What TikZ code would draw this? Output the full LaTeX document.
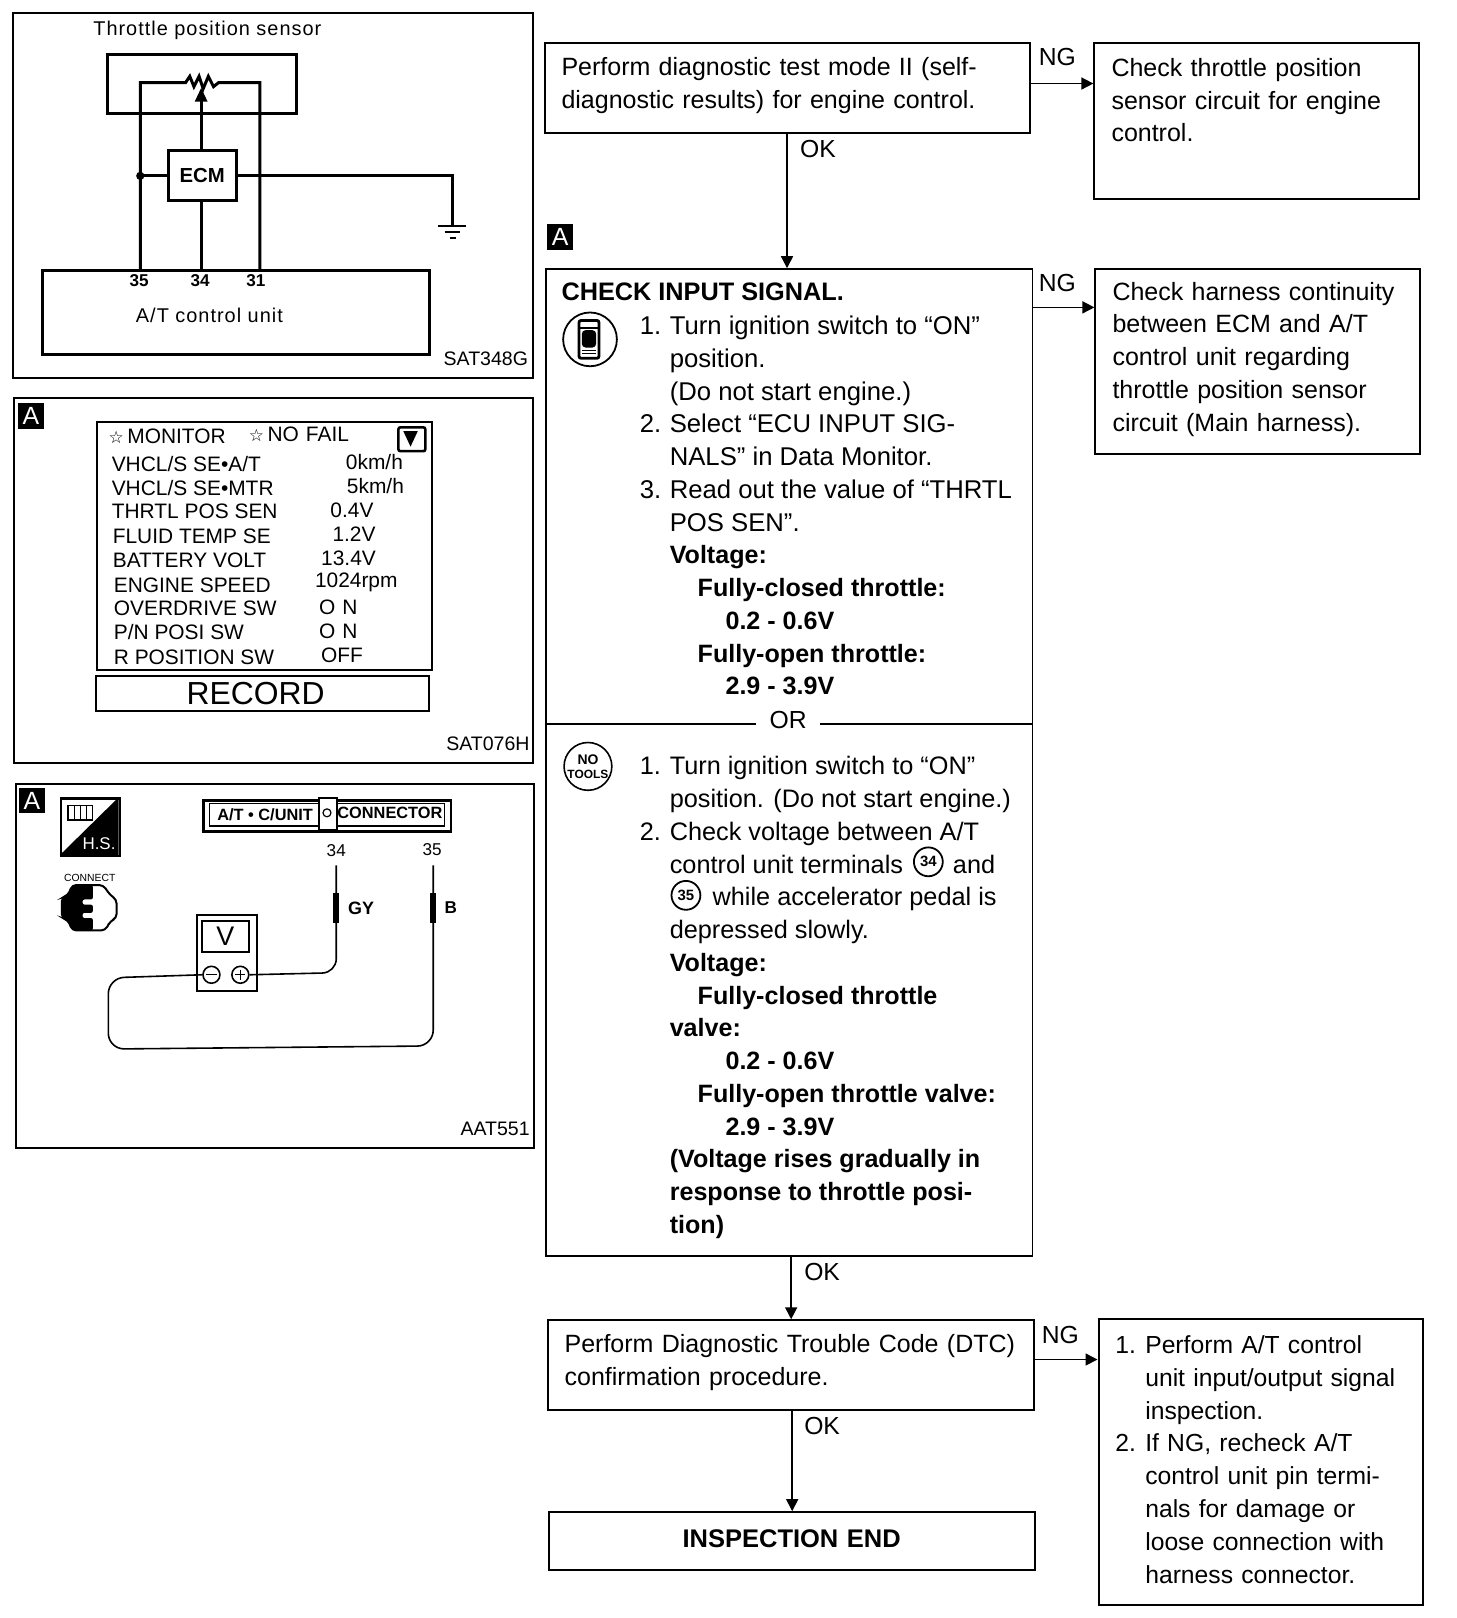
\documentclass[tikz,border=0pt]{standalone}
\usepackage{fontspec}
\setmainfont{Liberation Sans}
\newfontfamily\starfont{DejaVu Sans}
\newfontfamily\widefont[LetterSpace=5]{Liberation Sans}
\usetikzlibrary{arrows.meta}
\newcommand{\fsize}[1]{\fontsize{#1}{16.45}\selectfont}
\newcommand{\bld}[1]{{\bfseries\fsize{12.6}#1}}
\newcommand{\itm}[1]{\makebox[15pt][l]{#1}}
\newcommand{\ind}{\hspace*{15pt}}
\newcommand{\indd}{\hspace*{29pt}}
\newcommand{\inddd}{\hspace*{43pt}}
\tikzset{panel/.style={draw, line width=1pt, anchor=north west, inner sep=0pt},
    flowbox/.style={draw, line width=1pt, anchor=north west, align=left, inner xsep=8.5pt, inner ysep=0pt, font=\fsize{12.55},
        execute at end node={\par\vspace*{2.6pt}}},
    flowtext/.style={anchor=north west, align=left, inner sep=0pt, font=\fsize{12.7}},
    flow/.style={line width=0.8pt, -{Triangle[length=6pt,width=6pt]}},
    tag/.style={inner sep=0pt, font=\fsize{12.4}},
    badge/.style={fill=black, text=white, minimum size=13pt, inner sep=0pt, font=\fsize{12.5}},
    wire/.style={line width=1.5pt},
    thinwire/.style={line width=0.8pt},
    code/.style={inner sep=0pt, font=\fsize{9.8}},
    widetext/.style={inner sep=0pt, font=\widefont\fsize{10}},
    pinlabel/.style={inner sep=0pt, font=\bfseries\fsize{8.6}},
    scantext/.style={inner sep=0pt, anchor=west, font=\fsize{10.5}},
    numcircle/.style={circle, draw, line width=0.9pt, inner sep=0pt, minimum size=14.5pt, font=\bfseries\fsize{7.5}}}

\begin{document}
\begin{tikzpicture}[x=0.518pt, y=-0.518pt]
    \useasboundingbox (0,0) rectangle (1411.6,1568.6);

    % wiring panel
    \node[panel, minimum width=261pt, minimum height=183pt] (wiring) at (12,12) {};
    \node[widetext] (sensortitle) at (201,29) {Throttle position sensor};
    \node[panel, line width=1.5pt, minimum width=95pt, minimum height=30pt] (sensor) at (103,51) {};
    \node[panel, line width=1.5pt, minimum width=34pt, minimum height=25pt, font=\bfseries\fsize{10.2}, anchor=center] (ecm) at (196,170.5) {ECM};
    \node[panel, line width=1.5pt, minimum width=194pt, minimum height=42pt] (tcu) at (40,261) {};
    \node[pinlabel] (t35) at (135,272) {35};
    \node[pinlabel] (t34) at (194,272) {34};
    \node[pinlabel] (t31) at (248,272) {31};
    \node[widetext] (tcutext) at (203,306) {A/T control unit};
    \node[code] (sat348) at (471,348) {SAT348G};
    \coordinate (rleft) at (180,80);
    \coordinate (rright) at (212,80);
    \coordinate (wiper) at (195,85);
    \coordinate (junction) at (136,170.5);
    \coordinate (rwire) at (252,80);
    \coordinate (gnd) at (439,218);
    \draw[wire] (junction |- tcu.north) -- (junction) -- (136,80) -- (rleft)
        -- (184,74) -- (188,84) -- (193,74) -- (197,86) -- (202,74) -- (207,84) -- (rright) -- (rwire) -- (rwire |- tcu.north);
    \draw[wire, -{Triangle[length=7pt,width=6pt]}] (ecm.north -| wiper) -- (wiper);
    \draw[wire] (ecm.south -| wiper) -- (wiper |- tcu.north);
    \draw[wire] (ecm.west) -- (junction);
    \fill (junction) circle (4);
    \draw[wire] (ecm.east) -- (gnd |- ecm.east) -- (gnd);
    \draw[thinwire] (425,219) -- (452,219) (431,225) -- (446,225);
    \draw[line width=1pt] (436,231) -- (442,231);

    % monitor panel
    \node[panel, minimum width=260.5pt, minimum height=183pt] (monitor) at (13,385) {};
    \node[badge] (a1) at (30,403) {A};
    \node[panel, minimum width=168.5pt, minimum height=124.5pt] (screen) at (93,408) {};
    \node[panel, minimum width=167.5pt, minimum height=17.5pt, font=\fsize{16}, anchor=center] (record) at (254.5,672) {RECORD\hspace*{7pt}};
    \node[panel, line width=1.3pt, minimum width=13.5pt, minimum height=12pt, rounded corners=1pt] (scroll) at (385,413) {};
    \fill (391,418) -- (405,418) -- (398,433) -- cycle;
    \node[scantext] (mon) at (105,423) {{\starfont\fsize{8.5}☆}\,MONITOR};
    \node[scantext] (nofail) at (241,421) {{\starfont\fsize{8.5}☆}\,NO\,\,FAIL};
    \foreach \i/\lx/\ly/\vx/\vy/\name/\val in {1/108/450/335/448/{VHCL/S SE•A/T}/{0km/h},
        2/108/473/336/471/{VHCL/S SE•MTR}/{5km/h}, 3/108/496/320/495/{THRTL POS SEN}/{0.4V},
        4/109/520/322/518/{FLUID TEMP SE}/{1.2V}, 5/109/543/311/541/{BATTERY VOLT}/{13.4V},
        6/110/567/305/565/{ENGINE SPEED}/{1024rpm}, 7/110/590/309/589/{OVERDRIVE SW}/{O\,\,N},
        8/110/613/309/612/{P/N POSI SW}/{O\,\,N}, 9/110/637/311/635/{R POSITION SW}/{OFF}}
    {
        \node[scantext] (l\i) at (\lx,\ly) {\name};
        \node[scantext] (v\i) at (\vx,\vy) {\val};
    }
    \node[code] (sat076) at (473,721) {SAT076H};

    % voltmeter panel
    \node[panel, minimum width=260pt, minimum height=183pt] (meter) at (15,759) {};
    \node[badge] (a2) at (31,776) {A};
    \node[panel, line width=1.2pt, minimum width=29.5pt, minimum height=29pt] (hsicon) at (58,773) {};
    \fill (115,773) -- (115,829) -- (58,829) -- cycle;
    \node[inner sep=0pt, text=white, font=\fsize{8.5}] (hs) at (96,818) {H.S.};
    \draw[line width=0.6pt] (66,781) rectangle (90,795) (72,781) -- (72,795) (78,781) -- (78,795) (84,781) -- (84,795);
    \node[inner sep=0pt, font=\fsize{5.2}] (connect) at (87,851) {CONNECT};
    \draw[line width=1pt, rounded corners=2pt, fill=white] (70,858) -- (100,858) -- (107,868) -- (113,872) -- (113,890) -- (107,893) -- (102,902) -- (70,902) -- (66,892) -- (60,890) -- (60,870) -- (66,868) -- cycle;
    \fill[rounded corners=1pt] (70,858) -- (90,858) -- (90,872) -- (80,872) -- (80,877) -- (90,877) -- (90,885) -- (80,885) -- (80,890) -- (90,890) -- (90,902) -- (70,902) -- (66,892) -- (60,890) -- (60,870) -- (66,868) -- cycle;
    \node[panel, line width=1.2pt, minimum width=124.5pt, minimum height=15.5pt] (title) at (196,775) {};
    \draw[line width=0.8pt] (203,779) rectangle (431,801);
    \node[panel, line width=1pt, minimum width=9pt, minimum height=16pt, fill=white] (titletab) at (308,773) {};
    \node[circle, draw, line width=0.6pt, inner sep=0pt, minimum size=4pt] (tabdot) at (317,788) {};
    \node[inner sep=0pt, font=\bfseries\fsize{8.2}] (title1) at (257,790) {A/T • C/UNIT};
    \node[inner sep=0pt, font=\bfseries\fsize{8.2}] (title2) at (378,788) {CONNECTOR};
    \node[panel, minimum width=30pt, minimum height=38pt] (vm) at (190,886) {};
    \node[panel, line width=1.1pt, minimum width=23.5pt, minimum height=15.5pt, font=\fsize{13.5}, anchor=center] (vdisp) at (218.5,908) {V};
    \node[circle, draw, line width=0.8pt, inner sep=0pt, minimum size=8.5pt] (minus) at (205,945) {};
    \node[circle, draw, line width=0.8pt, inner sep=0pt, minimum size=8.5pt] (plus) at (233,945) {};
    \draw[line width=0.6pt] (200,945) -- (210,945) (228,945) -- (238,945) (233,940) -- (233,950);
    \node[code, font=\fsize{8.6}] (p34) at (326,825) {34};
    \node[code, font=\fsize{8.6}] (p35) at (419,824) {35};
    \node[code, font=\bfseries\fsize{9}] (gy) at (350,881) {GY};
    \node[code, font=\bfseries\fsize{8.6}] (bk) at (437,880) {B};
    \coordinate (tip34) at (326,839);
    \coordinate (tip35) at (420,839);
    \draw[thinwire, rounded corners=7pt] (tip34) -- (326,943) -- (plus.east);
    \draw[thinwire, rounded corners=8pt] (tip35) -- (420,1014) -- (105,1017) -- (105,948) -- (minus.west);
    \draw[line width=3.2pt] (326,866) -- (326,895) (420,866) -- (420,895);
    \node[code] (aat551) at (480,1094) {AAT551};

    % flow chart
    \node[flowbox, minimum width=244pt, minimum height=45pt, text width=227pt] (perform) at (527,41)
        {Perform diagnostic test mode II (self-\\diagnostic results) for engine control.};
    \node[flowbox, minimum width=163.2pt, minimum height=78pt, text width=146pt] (sensorcheck) at (1060,41)
        {Check throttle position\\sensor circuit for engine\\control.\\[2pt]~};
    \node[badge] (a3) at (543,230) {A};
    \node[panel, minimum width=244.5pt, minimum height=495.5pt] (inputcheck) at (528,260) {};
    \node[flowtext, font=\bfseries\fsize{12.7}, anchor=west] (checktitle) at (544,283) {CHECK INPUT SIGNAL.};
    \node[flowtext, font=\fsize{12.9}] (consult) at (620,306)
        {\itm{1.}Turn ignition switch to “ON”\\
        \ind position.\\
        \ind (Do not start engine.)\\
        \itm{2.}Select “ECU INPUT SIG-\\
        \ind NALS” in Data Monitor.\\
        \itm{3.}Read out the value of “THRTL\\
        \ind POS SEN”.\\
        \ind\bld{Voltage:}\\
        \indd\bld{Fully-closed throttle:}\\
        \inddd\bld{0.2 - 0.6V}\\
        \indd\bld{Fully-open throttle:}\\
        \inddd\bld{2.9 - 3.9V}};
    \node[circle, draw, line width=0.9pt, minimum size=27pt, inner sep=0pt] (consulticon) at (572,329) {};
    \node[draw, line width=1.4pt, fill=white, minimum width=10pt, minimum height=19pt, inner sep=0pt, rounded corners=1pt] (device) at (571,329) {};
    \fill[rounded corners=2pt] (564,320) rectangle (578,337);
    \draw[line width=0.6pt] (562,318) -- (580,318) (564,340) -- (578,340) (564,343) -- (578,343);
    \node[inner sep=1.5pt, font=\fsize{12.4}] (ortext) at (764,698) {OR};
    \draw[thinwire] (inputcheck.west |- 0,702) -- (733,702);
    \draw[thinwire] (795,702) -- (inputcheck.east |- 0,702);
    \node[circle, draw, line width=0.8pt, minimum size=24pt, inner sep=0pt, align=center, font=\bfseries\fontsize{6}{7}\selectfont] (notools) at (570,743) {{\fontsize{7}{7}\selectfont NO}\\TOOLS};
    \node[flowtext] (tester) at (620,733)
        {\itm{1.}Turn ignition switch to “ON”\\
        \ind position. (Do not start engine.)\\
        \itm{2.}Check voltage between A/T\\
        \ind control unit terminals \hspace{18pt} and\\
        \ind\hspace{18pt} while accelerator pedal is\\
        \ind depressed slowly.\\
        \ind\bld{Voltage:}\\
        \indd\bld{Fully-closed throttle}\\
        \ind\bld{valve:}\\
        \inddd\bld{0.2 - 0.6V}\\
        \indd\bld{Fully-open throttle valve:}\\
        \inddd\bld{2.9 - 3.9V}\\
        \ind\bld{(Voltage rises gradually in}\\
        \ind\bld{response to throttle posi-}\\
        \ind\bld{tion)}};
    \node[numcircle] (c34) at (900,835.5) {34};
    \node[numcircle] (c35) at (665,868) {35};
    \node[flowbox, minimum width=163.2pt, minimum height=93pt, text width=146pt] (harness) at (1061,260)
        {Check harness continuity\\between ECM and A/T\\control unit regarding\\throttle position sensor\\circuit (Main harness).};
    \node[flowbox, minimum width=244pt, minimum height=45pt, text width=227pt] (dtc) at (530,1279)
        {Perform Diagnostic Trouble Code (DTC)\\confirmation procedure.};
    \node[flowbox, minimum width=163pt, minimum height=143.5pt, text width=146pt, font=\fsize{12.4}] (recheck) at (1064,1278)
        {\itm{1.}Perform A/T control\\
        \ind unit input/output signal\\
        \ind inspection.\\
        \itm{2.}If NG, recheck A/T\\
        \ind control unit pin termi-\\
        \ind nals for damage or\\
        \ind loose connection with\\
        \ind harness connector.};
    \node[flowbox, minimum width=244pt, minimum height=29pt, text width=227pt, align=center, font=\bfseries\fsize{12.8}] (inspend) at (531,1465) {INSPECTION END};
    \draw[flow] ([yshift=2.3pt]perform.east) -- ([yshift=2.3pt]perform.east -| sensorcheck.west);
    \draw[flow] (perform.south -| 763,0) -- (inputcheck.north -| 763,0);
    \draw[flow] (inputcheck.north east |- 0,298) -- (harness.west |- 0,298);
    \draw[flow] (inputcheck.south -| 767,0) -- (dtc.north -| 767,0);
    \draw[flow] (dtc.east |- 0,1318) -- (recheck.west |- 0,1318);
    \draw[flow] (dtc.south -| 768,0) -- (inspend.north -| 768,0);
    \node[tag] (ng1) at (1025,55) {NG};
    \node[tag] (ok1) at (793,144) {OK};
    \node[tag] (ng2) at (1025,274) {NG};
    \node[tag] (ok2) at (797,1233) {OK};
    \node[tag] (ng3) at (1028,1294) {NG};
    \node[tag] (ok3) at (797,1382) {OK};
\end{tikzpicture}
\end{document}
